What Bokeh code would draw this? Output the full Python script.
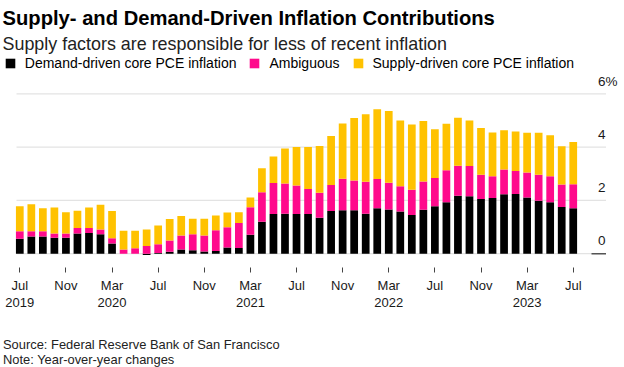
import numpy as np
import pandas as pd
from bokeh.plotting import figure
from bokeh.models import (ColumnDataSource, FixedTicker, Range1d, Label, Legend, LegendItem)
from bokeh.embed import file_html
from bokeh.resources import INLINE

# ---- data (percentage points, year-over-year) ----
months = pd.date_range("2019-07-01", "2023-07-01", freq="MS").strftime("%b %Y").tolist()

demand = [0.56, 0.65, 0.65, 0.60, 0.60, 0.76, 0.78, 0.73, 0.38, 0.00, 0.00, -0.05, 0.03,
          0.07, 0.16, 0.13, 0.08, 0.10, 0.23, 0.21, 0.71, 1.20, 1.49, 1.50, 1.49,
          1.49, 1.35, 1.60, 1.63, 1.63, 1.50, 1.71, 1.66, 1.58, 1.45, 1.65, 1.78,
          1.93, 2.17, 2.16, 2.05, 2.09, 2.23, 2.24, 2.11, 1.99, 1.93, 1.75, 1.71]
ambiguous = [0.28, 0.19, 0.19, 0.16, 0.16, 0.20, 0.18, 0.18, 0.20, 0.16, 0.20, 0.29, 0.32,
             0.43, 0.52, 0.60, 0.60, 0.78, 0.76, 0.94, 1.03, 1.11, 1.16, 1.13, 1.07,
             0.94, 0.94, 0.98, 1.18, 1.12, 1.20, 1.09, 1.00, 0.95, 0.95, 1.06, 1.06,
             1.20, 1.13, 1.13, 0.91, 0.82, 0.93, 0.86, 0.94, 0.97, 0.98, 0.85, 0.90]
supply = [0.94, 1.02, 0.87, 0.97, 0.80, 0.65, 0.77, 0.93, 1.02, 0.70, 0.66, 0.62, 0.71,
          0.80, 0.73, 0.58, 0.63, 0.55, 0.56, 0.41, 0.37, 0.90, 1.00, 1.32, 1.44,
          1.57, 1.75, 1.84, 2.08, 2.34, 2.53, 2.62, 2.69, 2.47, 2.45, 2.27, 1.83,
          1.75, 1.80, 1.71, 1.76, 1.64, 1.47, 1.49, 1.49, 1.58, 1.53, 1.43, 1.58]

series_names = ["Demand-driven core PCE inflation", "Ambiguous", "Supply-driven core PCE inflation"]
colors = ["#000000", "#ff0a8c", "#ffc200"]

tick_labels = ["Jul\n2019", "Nov", "Mar\n2020", "Jul", "Nov", "Mar\n2021", "Jul",
               "Nov", "Mar\n2022", "Jul", "Nov", "Mar\n2023", "Jul"]
y_tick_values = [0, 2, 4, 6]
y_tick_labels = ["0", "2", "4", "6%"]

# ---- stacking (positive parts up from 0, negative parts down from 0) ----
x = np.arange(len(months))
d = np.array(demand)
a = np.array(ambiguous)
s = np.array(supply)
pos_base = np.maximum(d, 0)
src = ColumnDataSource(dict(
    x=x, month=months,
    d0=np.zeros_like(d), d1=d,
    a0=pos_base, a1=pos_base + a,
    s0=pos_base + a, s1=pos_base + a + s,
))

# ---- layout: the frame spans the whole canvas; ranges map data to page pixels ----
W, H = 624, 367
PX_X, X0 = 11.53, 19.3      # px per month, page x of first bar
PX_Y, Y0 = 26.65, 253.2     # px per percentage point, page y of zero
x_range = Range1d(-X0 / PX_X, (W - X0) / PX_X)
y_range = Range1d((Y0 - H) / PX_Y, Y0 / PX_Y)

def xv(px):  # page x -> data x
    return (px - X0) / PX_X

def yv(py):  # page y -> data y
    return (Y0 - py) / PX_Y

p = figure(width=W, height=H, x_range=x_range, y_range=y_range, title=None,
           x_axis_location="below", y_axis_location="right",
           min_border=0, min_border_left=0, min_border_right=0,
           min_border_top=0, min_border_bottom=0,
           output_backend="svg", toolbar_location=None)
p.outline_line_color = None
p.background_fill_color = "white"
p.border_fill_color = "white"
p.xgrid.visible = False
p.ygrid.visible = False

# horizontal gridlines over the bar area
GL, GR = xv(16), xv(605.5)
p.segment(x0=[GL] * len(y_tick_values), x1=[GR] * len(y_tick_values),
          y0=y_tick_values, y1=y_tick_values, line_color="#e3e3e3", line_width=1.2)

BW = 0.67
r_d = p.vbar(x="x", bottom="d0", top="d1", width=BW, source=src, fill_color=colors[0], line_color=None)
r_a = p.vbar(x="x", bottom="a0", top="a1", width=BW, source=src, fill_color=colors[1], line_color=None)
r_s = p.vbar(x="x", bottom="s0", top="s1", width=BW, source=src, fill_color=colors[2], line_color=None)

# zero-line accent at the right edge
p.segment(x0=[xv(591)], x1=[GR], y0=[0], y1=[0], line_color="#555555", line_width=1.5)

FONT = "Liberation Sans"

# x axis, drawn just under the bars
xa = p.xaxis[0]
x_ticks = [int(i) for i in x[::4]]
xa.fixed_location = yv(266.7)
xa.ticker = FixedTicker(ticks=x_ticks)
xa.major_label_overrides = {t: lab for t, lab in zip(x_ticks, tick_labels)}
xa.axis_line_color = None
xa.major_tick_in = 0
xa.major_tick_out = 5
xa.major_tick_line_color = "#444444"
xa.minor_tick_line_color = None
xa.major_label_standoff = 6
xa.major_label_text_font = FONT
xa.major_label_text_font_size = "13px"
xa.major_label_text_line_height = 1.12
xa.major_label_text_color = "#1a1a1a"

# y axis on the right; labels sit just above their gridlines
ya = p.yaxis[0]
LABEL_LIFT = 0.48
y_label_pos = [v + LABEL_LIFT for v in y_tick_values]
ya.fixed_location = GR
ya.ticker = FixedTicker(ticks=y_label_pos)
ya.major_label_overrides = {v: lab for v, lab in zip(y_label_pos, y_tick_labels)}
ya.axis_line_color = None
ya.major_tick_in = 0
ya.major_tick_out = 0
ya.minor_tick_line_color = None
ya.major_label_standoff = -8
ya.major_label_text_font = FONT
ya.major_label_text_font_size = "13.5px"
ya.major_label_text_color = "#1a1a1a"

# legend
legend = Legend(items=[LegendItem(label=series_names[0], renderers=[r_d]),
                       LegendItem(label=series_names[1], renderers=[r_a]),
                       LegendItem(label=series_names[2], renderers=[r_s])],
                orientation="horizontal", location=(3.8, H - 70.5),
                glyph_width=12, glyph_height=12, label_height=12,
                label_standoff=9, spacing=12, padding=0, margin=0,
                border_line_color=None, background_fill_alpha=0,
                label_text_font=FONT, label_text_font_size="14px", label_text_color="#000000")
p.add_layout(legend)

# titles and notes (screen units measured from the canvas bottom-left)
def note(text, px, py, size, color, style="normal"):
    p.add_layout(Label(x=px, y=H - py, x_units="screen", y_units="screen", text=text,
                       text_font=FONT, text_font_style=style, text_font_size=size,
                       text_color=color, text_baseline="alphabetic"))

note("Supply- and Demand-Driven Inflation Contributions", 2, 17.7, "20.2px", "#000000", "bold")
note("Supply factors are responsible for less of recent inflation", 2, 43.3, "17.9px", "#222222")
note("Source: Federal Reserve Bank of San Francisco", 2.5, 344.3, "12.9px", "#222222")
note("Note: Year-over-year changes", 2.5, 359.3, "12.9px", "#222222")

open("out.html", "w").write(file_html(p, INLINE))
